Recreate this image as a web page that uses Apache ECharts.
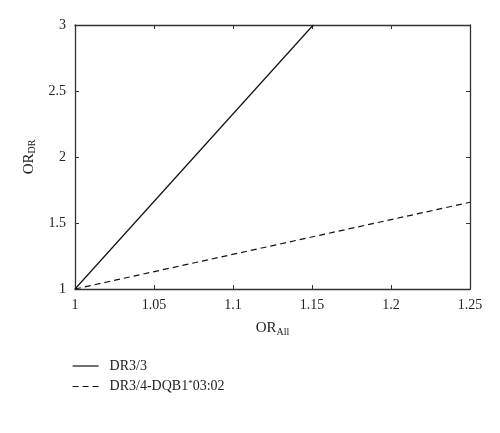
<!DOCTYPE html>
<html><head><meta charset="utf-8">
<script src="https://cdn.jsdelivr.net/npm/echarts@6/dist/echarts.min.js"></script>
<style>html,body{margin:0;padding:0;background:#fff}#c{width:500px;height:433px}</style>
</head><body><div id="c"></div>
<script>
const xTicks = [1, 1.05, 1.1, 1.15, 1.2, 1.25];
const yTicks = [1, 1.5, 2, 2.5, 3];
const seriesNames = ['DR3/3', 'DR3/4-DQB1*03:02'];
const solidX = [1, 1.1508];
const solidY = [1, 3];
const dashedX = [1, 1.25];
const dashedY = [1, 1.657];

const font = 'Liberation Serif';
const axisColor = '#333';
const chart = echarts.init(document.getElementById('c'));
const baseAxis = {
  axisLine: {show: true, lineStyle: {color: axisColor, width: 1.3}},
  axisTick: {show: true, inside: true, length: 4, lineStyle: {color: axisColor}},
  splitLine: {show: false}
};
chart.setOption({
  animation: false,
  grid: {left: 75, right: 30, top: 25, bottom: 144},
  legend: {
    orient: 'vertical', left: 67, top: 354, itemGap: 6, itemWidth: 26, itemHeight: 14,
    data: seriesNames,
    itemStyle: {opacity: 0},
    lineStyle: {width: 1.2},
    formatter: n => '{p|}' + n.replace('*', '{sup|*}'),
    textStyle: {fontFamily: font, fontSize: 14, color: '#222',
      rich: {p: {width: 6}, sup: {fontFamily: font, fontSize: 9, verticalAlign: 'top', padding: [0,0,6,0], color: '#222'}}}
  },
  xAxis: [
    Object.assign({}, baseAxis, {
      type: 'value', min: xTicks[0], max: xTicks[xTicks.length-1], interval: 0.05, position: 'bottom',
      axisLabel: {fontFamily: font, fontSize: 14, color: '#222', margin: 9},
      name: '{m|OR}{s|All}', nameLocation: 'middle', nameGap: 30,
      nameTextStyle: {rich: {m: {fontFamily: font, fontSize: 15, color: '#222'}, s: {fontFamily: font, fontSize: 10, color: '#222', padding: [8,0,0,0]}}}
    }),
    Object.assign({}, baseAxis, {
      type: 'value', min: xTicks[0], max: xTicks[xTicks.length-1], interval: 0.05, position: 'top',
      axisLabel: {show: false}
    })
  ],
  yAxis: [
    Object.assign({}, baseAxis, {
      type: 'value', min: yTicks[0], max: yTicks[yTicks.length-1], interval: 0.5, position: 'left',
      axisLabel: {fontFamily: font, fontSize: 14, color: '#222', margin: 9},
      name: '{m|OR}{s|DR}', nameLocation: 'middle', nameGap: 37,
      nameTextStyle: {rich: {m: {fontFamily: font, fontSize: 15, color: '#222'}, s: {fontFamily: font, fontSize: 10, color: '#222', padding: [8,0,0,0]}}}
    }),
    Object.assign({}, baseAxis, {
      type: 'value', min: yTicks[0], max: yTicks[yTicks.length-1], interval: 0.5, position: 'right',
      axisLabel: {show: false}
    })
  ],
  series: [
    {name: seriesNames[0], type: 'line', symbol: 'none', showSymbol: false,
     data: solidX.map((x,i) => [x, solidY[i]]),
     lineStyle: {color: '#111', width: 1.2, type: 'solid'}, itemStyle: {color: '#111'}},
    {name: seriesNames[1], type: 'line', symbol: 'none', showSymbol: false,
     data: dashedX.map((x,i) => [x, dashedY[i]]),
     lineStyle: {color: '#111', width: 1.2, type: [6,4]}, itemStyle: {color: '#111'}}
  ]
});
</script></body></html>
